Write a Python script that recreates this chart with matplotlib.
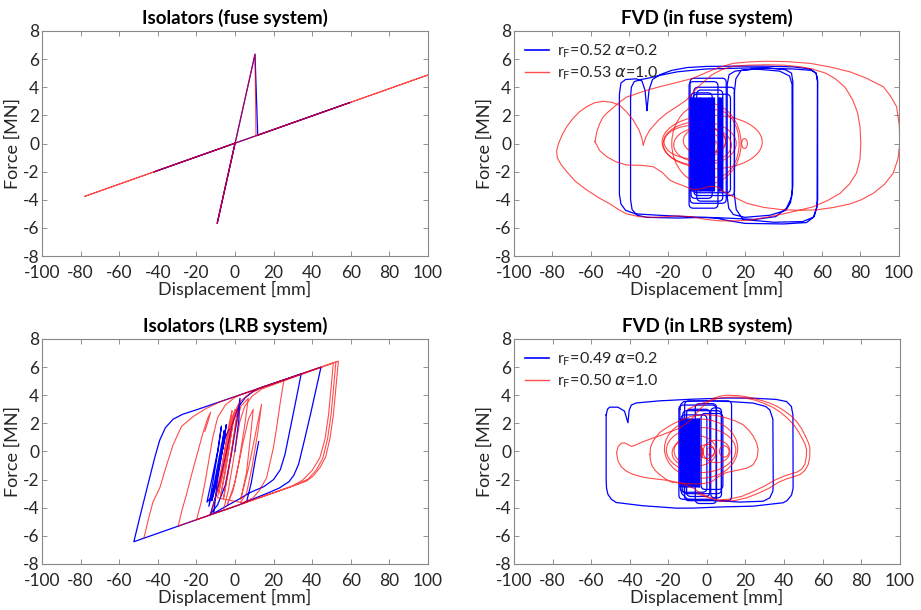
import numpy as np
import matplotlib.pyplot as plt
from matplotlib.patches import Ellipse, FancyBboxPatch
from matplotlib.lines import Line2D

plt.rcParams['font.family'] = ['Lato', 'DejaVu Sans']
plt.rcParams['mathtext.fontset'] = 'dejavusans'
plt.rcParams['axes.unicode_minus'] = False

nan = np.nan
BLUE = '#0000ff'
RED = '#ff0000'

# ---------------- Isolators (fuse system) ----------------
iso_fuse_blue_x = [0, -9.2, 10.4, 11.8, 59.7, -42, 0]
iso_fuse_blue_y = [0, -5.68, 6.35, 0.59, 2.92, -2.02, 0.02]
iso_fuse_red_x = [0, -9.2, 10.4, 10.9, 100, -77.9, 0]
iso_fuse_red_y = [0, -5.68, 6.35, 0.55, 4.87, -3.76, 0.02]

# ---------------- Isolators (LRB system) ----------------
lrb_blue_x = [0, 2, 2.6, 1, -2, -5, -9, -13,
              -52.4,
              -49, -45, -41.5, -39, -36, -32, -27, -20,
              44.6,
              42, 39, 36, 33, 30.5, 28, 23, 18, 10, 2, -4, -12.8,
              -10, -7, -4, -1.5, 1, 2.5, 5.5, 9.4, 14, 19.6, 34.3,
              32, 29.5, 27.5, 25.9, 23.5, 20, 15, 7.7, 2, -4.3, -11,
              -9, -6, -4.5, -6, -9, -12.5, -14.5, -12, -9, -7, -8.5, -11, -13.5,
              -11, -8, -5.5, -7, -10, -12, -9, -5, -3,
              nan,
              4, 6.1, 8.5, 10.5, 12.3]
lrb_blue_y = [0, 2.2, 3.78, 2.2, -0.3, -2.4, -3.8, -4.52,
              -6.42,
              -4.5, -2.3, -0.4, 0.8, 1.7, 2.3, 2.65, 2.96,
              6.0,
              4.4, 2.55, 0.8, -0.9, -1.7, -2.15, -2.6, -2.9, -3.35, -3.8, -4.1, -4.5,
              -3.2, -1.6, 0.2, 1.9, 2.9, 3.31, 3.85, 4.26, 4.57, 4.82, 5.51,
              3.9, 2.2, 0.85, -0.23, -1.3, -2.0, -2.5, -2.93, -3.4, -3.87, -4.4,
              -2, 0.5, 1.9, 0.5, -1.6, -3.3, -3.6, -2.0, 0, 1.8, 0.3, -1.8, -3.9,
              -2.5, -0.3, 1.5, 0, -2.5, -3.5, -1.5, 1.0, 1.6,
              nan,
              -3.7, -3.55, -2.2, -0.6, 0.7]

lrb_red_x = [-47.2, -45, -42.5, -38.9, -35.5, -32, -27.7, -21.6, -15, -8,
             53.6, 52.5, 51, 49.3, 47, 44, 40.5, 37.2, 32,
             -19.9, -17.5, -15.5, -13.5, -11.5, -9, -5, 0, 3,
             52.3, 51.3, 49.8, 48, 45.5, 42, 38, 33, 28,
             -29.4, -27.5, -25, -22, -19, -16.4, -14, -12.6, -13.8, -15.6,
             nan,
             -6, -3.5, -1.5, 0.5, 2.5, 5, 9, 14,
             51.0, 50, 48.5, 46.7, 44, 40, 35, 29, 12,
             nan,
             -12.5, -10, -7, -4, -1, 3, 8, 15, 25.4, 23.5, 21.5, 19.9, 18, 16.4,
             13, 9.5, 4,
             -9, -6, -3, -1.5, -3, -6, -8.5, -5, -2, 0, -2, -5, -7.5, -4, -1,
             1.5, -0.5, -3.5, -6, -3, 0, 3, 6.9, 5, 2, -1, -4, 0, 4, 7, 9.5, 8,
             6, 3, 7, 10, 12, 13.8, 12, 9, 6, 3]
lrb_red_y = [-6.17, -4.9, -3.6, -2.57, -1.0, 0.49, 1.78, 2.49, 3.05, 3.52,
             6.42, 4.8, 2.6, 0.96, -0.4, -1.16, -1.75, -2.1, -2.36,
             -4.86, -3.6, -2.2, -0.6, 1.0, 2.4, 3.3, 3.85, 4.04,
             6.36, 4.8, 2.6, 0.9, -0.5, -1.35, -1.95, -2.3, -2.56,
             -5.31, -4.2, -3.0, -1.4, 0.1, 1.4, 2.4, 2.79, 2.2, 1.43,
             nan,
             -4.19, -2.8, -1.2, 0.5, 2.1, 3.2, 3.95, 4.45,
             6.3, 4.8, 2.6, 0.9, -0.45, -1.35, -2.05, -2.5, -3.32,
             nan,
             -4.5, -3.2, -1.2, 1.0, 2.6, 3.6, 4.15, 4.6, 5.09, 3.5, 1.6, 0.25, -0.9, -1.87,
             -2.7, -3.29, -3.65,
             -3.3, -0.5, 2.0, 2.9, 1.5, -1.2, -3.0, -0.8, 1.8, 3.0, 1.2, -1.5, -3.2, -0.5, 2.0,
             3.3, 1.2, -1.5, -3.4, -1.0, 1.5, 3.2, 3.78, 1.8, -0.8, -2.8, -3.8, -2.2, 0.5, 2.3, 3.0, 1.0,
             -1.5, -3.4, -1.2, 0.8, 2.2, 3.36, 1.5, -1.0, -3.0, -3.6]

# ---------------- FVD (in fuse system) ----------------
fvd_fuse_blue_x = [-30.9, -31.9, -33.5, -36.5, -42, -44.4, -45.2, -45.2, -44.4, -42, -37, -25,
                   -10, 5, 12, 20, 40, 52, 56, 57.5, 57.7, 57, 54, 45, 30, 15, 0, -10, -18,
                   -24, -28, -29.8, -30.9,
                   nan,
                   -39.4, -39.4, -38.6, -36, -31, -15, 0, 10, 25, 36, 41.6, 44.3, 44.9, 44.9,
                   44.2, 41, 30, 15, 0, -15, -24, -30, -34, -37.5, -39, -39.4,
                   nan,
                   10.8, 10.8, 11.8, 15, 25, 38, 43.2, 44.5, 44.6, 43.7, 41.3, 33, 20, 14,
                   11.6, 10.8,
                   nan,
                   14.5, 14.5, 15.5, 19, 35, 50, 55.5, 57.3, 57.8, 57.8, 57.0, 54.5, 45, 30,
                   18, 15.3, 14.5]
fvd_fuse_blue_y = [2.35, 3.8, 4.45, 4.6, 4.55, 4.3, 3.5, -3.6, -4.3, -4.75, -5.0, -5.1,
                   -5.2, -5.3, -5.5, -5.68, -5.72, -5.62, -5.2, -4.4, 4.4, 5.0, 5.3, 5.45, 5.5,
                   5.5, 5.48, 5.4, 5.2, 4.9, 4.55, 3.8, 2.35,
                   nan,
                   3.3, -4.0, -4.7, -5.1, -5.25, -5.3, -5.25, -5.3, -5.4, -5.2, -4.6, -3.8,
                   -3.0, 4.4, 5.0, 5.25, 5.4, 5.35, 5.3, 5.1, 4.85, 4.65, 4.55, 4.4, 4.0, 3.3,
                   nan,
                   -3.8, 4.2, 4.9, 5.15, 5.3, 5.15, 4.8, 4.2, -3.3, -4.2, -4.75, -5.1, -5.25,
                   -5.05, -4.6, -3.8,
                   nan,
                   3.6, -3.6, -4.7, -5.4, -5.6, -5.55, -5.25, -4.6, -4.0, 4.5, 5.0, 5.2, 5.3,
                   5.35, 5.2, 4.6, 3.6]
fvd_fuse_box_left = [-8.5, -6.5, -9.0, -8.0, -5.0, -7.0]
fvd_fuse_box_right = [10.3, 14.6, 6.0, 3.0, 8.5, 12.5]
fvd_fuse_box_bottom = [-4.25, -3.7, -4.6, -3.9, -4.1, -3.5]
fvd_fuse_box_top = [4.64, 4.0, 4.4, 3.6, 3.8, 3.5]
fvd_fuse_dense_x = [-8.6, -8.1, -7.7, -7.2, -6.8, -6.3, -5.9, -5.4, -4.9, -4.5, -4.0, -3.5,
                    -3.1, -2.6, -2.1, -1.7, -1.2, -0.7, -0.3, 0.2, 0.7, 1.2, 1.6, 2.1, 2.6,
                    3.1, 3.6, 4.0, 5.8, 6.3, 6.8, 7.3, 7.8, 8.3]
fvd_fuse_dense_top = 3.3
fvd_fuse_dense_bottom = -3.35

fvd_fuse_red_x = [-32.8, -33.6, -35, -38, -41.5, -44.9, -49, -53.6, -58, -62.2, -66, -69.5,
                  -72.6, -75, -76.8, -77.8, -77.5, -75.5, -72.6, -68, -62.2, -56, -50.1, -45,
                  -41.5, -35, -28, -20, -15.5, -8, -4, 0, 7, 15, 22.6, 31, 39.9, 48, 55.5, 63,
                  69.4, 74.5, 78, 79.8, 80.2, 79.8, 78.5, 76, 72, 67, 62, 55, 48.6, 40, 31.3,
                  22, 14, 8, 3, -3, -6.5, -10.3, -15, -20.7, -25, -29.4, -31.5, -32.8,
                  nan,
                  -57.9, -57, -55.5, -53.6, -51, -48.4, -45, -41.5, -35, -30, -24.2, -15, -6.9,
                  0, 5.3, 10, 14, 22, 31.3, 42, 53.8, 64, 74.5, 83, 88, 91.9, 95.5, 98.8, 100.2,
                  100.5, 99.5, 97, 92.5, 86.7, 80.5, 74.5, 65.9, 57, 48.6, 39, 30, 21, 13.9, 9,
                  5.3, 1.5, -2, -6.9, -12, -16, -19, -23, -27.6, -34, -41.5, -47, -51.8, -55.5,
                  -57.9]
fvd_fuse_red_y = [-0.1, 0.4, 0.95, 1.67, 2.25, 2.7, 2.92, 3.0, 2.9, 2.62, 2.25, 1.75, 1.19,
                  0.6, 0, -0.5, -1.0, -1.5, -2.0, -2.7, -3.3, -3.85, -4.3, -4.75, -5.0, -5.2,
                  -5.25, -5.2, -5.15, -5.2, -5.3, -5.4, -5.5, -5.5, -5.45, -5.25, -5.0, -4.75,
                  -4.5, -4.05, -3.55, -2.85, -2.1, -1.1, 0, 1.2, 2.2, 3.1, 4.0, 4.6, 5.0, 5.3,
                  5.46, 5.57, 5.6, 5.57, 5.5, 5.25, 4.9, 4.2, 3.7, 3.1, 2.65, 2.15, 1.65, 0.96,
                  0.45, -0.1,
                  nan,
                  0.13, 0.8, 1.4, 1.9, 2.25, 2.55, 2.95, 3.3, 3.6, 3.82, 4.04, 4.35, 4.64, 5.05,
                  5.35, 5.55, 5.7, 5.8, 5.85, 5.82, 5.7, 5.45, 5.1, 4.65, 4.3, 4.04, 3.4, 2.62,
                  1.3, 0, -1.1, -2.12, -2.9, -3.54, -4.0, -4.3, -4.55, -4.72, -4.75, -4.7,
                  -4.55, -4.25, -3.78, -3.4, -3.07, -3.05, -3.2, -3.3, -3.0, -2.8, -2.6, -2.05,
                  -1.65, -1.55, -1.53, -1.3, -0.94, -0.5, 0.13]
fvd_fuse_ell_cx = [-3.5, 3, -2, -1, 0, 1, -1, 2, 0, 19.8, 5, -6]
fvd_fuse_ell_cy = [0, 0.1, -0.1, 0.2, 0, -0.2, 0.1, 0, 0, 0, 0, 0.1]
fvd_fuse_ell_rx = [19, 26, 15, 11, 8, 5, 3.5, 2.5, 18, 1.5, 12, 16]
fvd_fuse_ell_ry = [1.55, 1.9, 1.25, 1.0, 0.75, 0.55, 0.45, 0.35, 2.9, 0.35, 2.4, 1.2]

# ---------------- FVD (in LRB system) ----------------
fvd_lrb_blue_x = [-52.2, -51.5, -50.4, -46.1, -42.7, -40.9, -40.3, -39.2, -36.6, -24.5, -7.3,
                  10, 24, 36, 41.3, 43.8, 44.6, 44.7, 43.9, 41.5, 39.5, 24, 6.7, -7.3, -15.9,
                  -33.2, -47, -49.5, -51.3, -52, -52.2, -52.2,
                  nan,
                  -14, -13.5, -12, 0, 11.9, 24, 30.5, 32.6, 34.2, 34.4, 34.2, 32.6, 29.2, 17.1,
                  5, -10, -13, -14, -14]
fvd_lrb_blue_y = [2.6, 3.0, 3.15, 3.15, 2.87, 2.04, 2.9, 3.3, 3.45, 3.6, 3.72, 3.8, 3.79, 3.7,
                  3.55, 3.2, 2.6, -2.6, -3.1, -3.5, -3.65, -3.89, -3.95, -4.03, -4.03, -3.86,
                  -3.63, -3.4, -3.04, -2.6, -2.0, 2.6,
                  nan,
                  3.0, 3.35, 3.55, 3.6, 3.55, 3.44, 3.2, 2.96, 2.3, -2.3, -2.83, -3.3, -3.54,
                  -3.6, -3.5, -3.4, -3.0, -2.5, 3.0]
fvd_lrb_box_left = [-14.5, -12.5, -11.5, -10.5, -3.0, -13.5, 2.0, -6.0]
fvd_lrb_box_right = [4.8, 7.5, 12.8, 1.5, 8.3, 0.0, 7.6, 5.0]
fvd_lrb_box_bottom = [-3.4, -3.0, -3.5, -3.2, -2.7, -2.9, -3.3, -3.7]
fvd_lrb_box_top = [3.3, 2.9, 3.6, 3.0, 2.7, 2.6, 3.1, 3.4]
fvd_lrb_dense_x = [-13.8, -13.3, -12.9, -12.4, -12.0, -11.5, -11.1, -10.6, -10.2, -9.7, -9.3,
                   -8.8, -8.4, -7.9, -7.5, -7.0, -6.6, -6.1, -5.7, -5.2, -4.8, -4.3, -3.9]
fvd_lrb_dense_top = 2.4
fvd_lrb_dense_bottom = -2.5

fvd_lrb_red_x = [-46.8, -46, -44.2, -42.5, -40.8, -39, -37, -34.7, -31, -27.8, -24, -20.9, -17,
                 -14, -11, -8, -5.5, -3, 0, 3, 6.5, 10, 15.4, 20, 25, 29, 32.6, 36.5, 40, 43.5,
                 46.5, 49.2, 51, 52.7, 53.4, 53.3, 52.5, 50.8, 48.2, 45, 41.3, 37, 32.6, 27,
                 20.6, 14, 6.7, 2, -3, -6.5, -10.5, -15, -20.9, -27, -31, -34.7, -38.5, -41.6,
                 -44.3, -46, -46.8,
                 nan,
                 -10, -5, 0, 5, 10, 15, 20, 25, 30, 34, 38, 41.5, 45, 47.5, 49.5, 51, 51.7,
                 51.5, 50.8, 49.2, 47, 43.5, 40, 35, 30, 24, 18, 11, 5, 0, -5,
                 nan,
                 -29.5, -29.2, -28, -26, -24, -20.5, -17, -12.5, -8, -3, 2, 6, 10.2, 14.8, 18.8,
                 21.8, 24, 25.8, 26.6, 26, 24, 20.8, 17.1, 13.5, 10, 6, 2, -3, -8, -13, -18,
                 -21.5, -24.4, -26.8, -28.5, -29.3, -29.5]
fvd_lrb_red_y = [-0.1, 0.35, 0.6, 0.6, 0.48, 0.36, 0.45, 0.6, 0.8, 0.96, 1.13, 1.31, 1.5, 1.67,
                 1.95, 2.3, 2.7, 3.1, 3.45, 3.75, 3.92, 4.0, 3.98, 3.9, 3.75, 3.6, 3.44, 3.2,
                 2.9, 2.55, 2.13, 1.6, 1.1, 0.6, 0.25, -0.4, -0.94, -1.35, -1.65, -1.8, -1.95,
                 -2.2, -2.59, -2.95, -3.3, -3.5, -3.54, -3.3, -3.0, -2.65, -2.4, -2.2, -2.05,
                 -1.95, -1.88, -1.77, -1.62, -1.41, -1.1, -0.7, -0.1,
                 nan,
                 3.0, 3.3, 3.55, 3.75, 3.85, 3.87, 3.8, 3.65, 3.4, 3.15, 2.8, 2.4, 1.9, 1.4, 0.9,
                 0.5, 0.1, -0.4, -0.9, -1.25, -1.45, -1.6, -1.75, -2.05, -2.45, -2.85, -3.2,
                 -3.4, -3.45, -3.25, -3.0,
                 nan,
                 -0.2, 0.3, 0.7, 1.1, 1.4, 1.72, 2.0, 2.28, 2.5, 2.6, 2.6, 2.52, 2.38, 2.17, 1.9,
                 1.5, 1.1, 0.6, 0.13, -0.45, -0.94, -1.18, -1.3, -1.4, -1.5, -1.8, -2.2, -2.3,
                 -2.3, -2.25, -2.2, -1.95, -1.65, -1.35, -1.0, -0.6, -0.2]
fvd_lrb_ell_cx = [-3, -8, -5, 0, 5, 9, -10, 2, -6, -3]
fvd_lrb_ell_cy = [0.1, 0, 0, 0, 0, 0, -0.1, 0, 0.05, 0.2]
fvd_lrb_ell_rx = [18, 5, 3, 4, 7, 2.5, 8, 2, 11, 19]
fvd_lrb_ell_ry = [1.6, 0.55, 0.4, 0.5, 0.8, 0.4, 0.9, 0.3, 1.1, 2.1]

legend_fuse = [r'r$_{\mathrm{F}}$=0.52 $\alpha$=0.2', r'r$_{\mathrm{F}}$=0.53 $\alpha$=1.0']
legend_lrb = [r'r$_{\mathrm{F}}$=0.49 $\alpha$=0.2', r'r$_{\mathrm{F}}$=0.50 $\alpha$=1.0']

LW_B = 0.9
LW_R = 0.8
RED_ALPHA = 0.7
ASPECT = 0.137  # y-units per x-unit on screen


def style_axes(ax, title):
    ax.set_xlim(-100, 100)
    ax.set_ylim(-8, 8)
    ax.set_xticks(np.arange(-100, 101, 20))
    ax.set_yticks(np.arange(-8, 9, 2))
    ax.tick_params(direction='in', top=True, right=True, length=3.5, width=0.6,
                   color='#808080', labelsize=12.5, labelcolor='#262626', pad=2)
    ax.tick_params(axis='x', pad=6.3)
    for s in ax.spines.values():
        s.set_color('#888888')
        s.set_linewidth(0.8)
    ax.set_title(title, fontsize=13.5, fontweight='bold', pad=5)
    ax.set_xlabel('Displacement [mm]', fontsize=13, labelpad=0, color='#262626')
    ax.set_ylabel('Force [MN]', fontsize=13, labelpad=1, color='#262626')


def add_boxes(ax, left, right, bottom, top):
    for l, r, b, t in zip(left, right, bottom, top):
        ax.add_patch(FancyBboxPatch((l, b), r - l, t - b,
                                    boxstyle='round,pad=0,rounding_size=2.2',
                                    mutation_aspect=ASPECT, fill=False,
                                    ec=BLUE, lw=LW_B))


def add_ellipses(ax, cx, cy, rx, ry):
    for x, y, a, b in zip(cx, cy, rx, ry):
        ax.add_patch(Ellipse((x, y), 2 * a, 2 * b, fill=False, ec=RED,
                             lw=LW_R, alpha=RED_ALPHA))


fig = plt.figure(figsize=(9.21, 6.10), dpi=100)
ax1 = fig.add_axes([0.0456, 0.5803, 0.419, 0.3689])
ax2 = fig.add_axes([0.558, 0.5803, 0.418, 0.3689])
ax3 = fig.add_axes([0.0456, 0.0755, 0.419, 0.3688])
ax4 = fig.add_axes([0.558, 0.0755, 0.419, 0.3688])

# Isolators (fuse)
ax1.plot(iso_fuse_blue_x, iso_fuse_blue_y, color=BLUE, lw=LW_B)
ax1.plot(iso_fuse_red_x, iso_fuse_red_y, color=RED, lw=LW_R, alpha=RED_ALPHA)
style_axes(ax1, 'Isolators (fuse system)')

# FVD (fuse)
ax2.plot(fvd_fuse_blue_x, fvd_fuse_blue_y, color=BLUE, lw=LW_B)
add_boxes(ax2, fvd_fuse_box_left, fvd_fuse_box_right, fvd_fuse_box_bottom, fvd_fuse_box_top)
ax2.vlines(fvd_fuse_dense_x, fvd_fuse_dense_bottom, fvd_fuse_dense_top, color=BLUE, lw=LW_B)
ax2.plot(fvd_fuse_red_x, fvd_fuse_red_y, color=RED, lw=LW_R, alpha=RED_ALPHA)
add_ellipses(ax2, fvd_fuse_ell_cx, fvd_fuse_ell_cy, fvd_fuse_ell_rx, fvd_fuse_ell_ry)
style_axes(ax2, 'FVD (in fuse system)')

# Isolators (LRB)
ax3.plot(lrb_blue_x, lrb_blue_y, color=BLUE, lw=LW_B)
ax3.plot(lrb_red_x, lrb_red_y, color=RED, lw=LW_R, alpha=RED_ALPHA)
style_axes(ax3, 'Isolators (LRB system)')

# FVD (LRB)
ax4.plot(fvd_lrb_blue_x, fvd_lrb_blue_y, color=BLUE, lw=LW_B)
add_boxes(ax4, fvd_lrb_box_left, fvd_lrb_box_right, fvd_lrb_box_bottom, fvd_lrb_box_top)
ax4.vlines(fvd_lrb_dense_x, fvd_lrb_dense_bottom, fvd_lrb_dense_top, color=BLUE, lw=LW_B)
ax4.plot(fvd_lrb_red_x, fvd_lrb_red_y, color=RED, lw=LW_R, alpha=RED_ALPHA)
add_ellipses(ax4, fvd_lrb_ell_cx, fvd_lrb_ell_cy, fvd_lrb_ell_rx, fvd_lrb_ell_ry)
style_axes(ax4, 'FVD (in LRB system)')

for ax, labels in ((ax2, legend_fuse), (ax4, legend_lrb)):
    handles = [Line2D([], [], color=BLUE, lw=1.2),
               Line2D([], [], color=RED, lw=1.0, alpha=RED_ALPHA)]
    ax.legend(handles, labels, loc='upper left', frameon=False, fontsize=11.5,
              handlelength=1.5, handletextpad=0.5, labelspacing=0.3,
              borderaxespad=0.3, labelcolor='#262626')

fig.savefig('out.png', dpi=100)
